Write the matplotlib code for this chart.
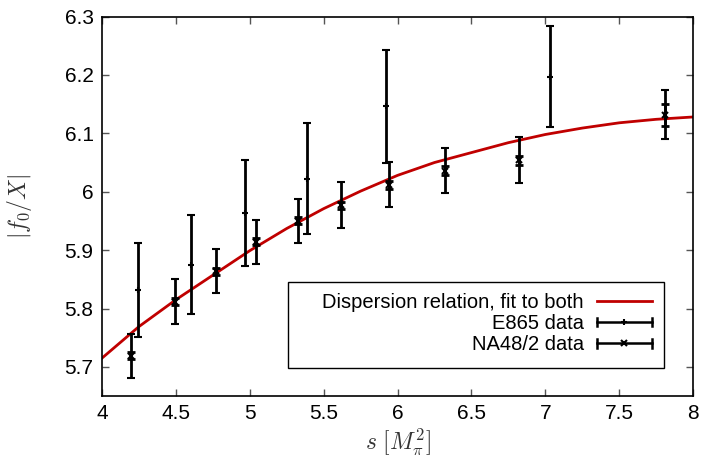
import matplotlib as mpl
import matplotlib.pyplot as plt
from matplotlib.lines import Line2D
from matplotlib.patches import Rectangle
from matplotlib.legend_handler import HandlerBase
import numpy as np

mpl.rcParams['font.family'] = 'Liberation Sans'
mpl.rcParams['mathtext.fontset'] = 'cm'

# E865 data (s, value, error)
e865_s = [4.246, 4.600, 4.970, 5.389, 5.922, 7.031]
e865_f = [5.832, 5.875, 5.964, 6.022, 6.146, 6.197]
e865_err = [0.081, 0.085, 0.091, 0.095, 0.097, 0.086]

# NA48/2 data (s, value, total error, stat error)
na48_s = [4.198, 4.496, 4.769, 5.040, 5.324, 5.617, 5.940, 6.323, 6.824, 7.811]
na48_f = [5.719, 5.812, 5.864, 5.914, 5.950, 5.977, 6.012, 6.036, 6.054, 6.132]
na48_err = [0.038, 0.038, 0.038, 0.038, 0.038, 0.039, 0.039, 0.039, 0.039, 0.042]
na48_stat = [0.006, 0.006, 0.006, 0.006, 0.006, 0.006, 0.007, 0.008, 0.008, 0.019]

# dispersion relation fit curve
fit_s = [4.0, 4.25, 4.5, 4.75, 5.0, 5.25, 5.5, 5.75, 6.0, 6.25, 6.5, 6.75,
         7.0, 7.25, 7.5, 7.75, 8.0]
fit_f = [5.715, 5.769, 5.815, 5.857, 5.899, 5.937, 5.971, 6.001, 6.028,
         6.050, 6.067, 6.084, 6.098, 6.109, 6.118, 6.124, 6.128]

xticks = [4, 4.5, 5, 5.5, 6, 6.5, 7, 7.5, 8]
yticks = [5.7, 5.8, 5.9, 6.0, 6.1, 6.2, 6.3]


class HandlerHBar(HandlerBase):
    """gnuplot-like legend sample: horizontal bar with end caps and a marker."""

    def __init__(self, marker):
        super().__init__()
        self.marker = marker

    def create_artists(self, legend, orig_handle, xdescent, ydescent,
                       width, height, fontsize, trans):
        y = height / 2 - ydescent
        x0, x1 = -xdescent, width - xdescent
        bar = Line2D([x0, x1], [y, y], color='black', lw=1.8, transform=trans)
        cap0 = Line2D([x0, x0], [y - 3, y + 3], color='black', lw=1.8, transform=trans)
        cap1 = Line2D([x1, x1], [y - 3, y + 3], color='black', lw=1.8, transform=trans)
        mk = Line2D([(x0 + x1) / 2], [y], marker=self.marker, ms=4, mew=1.5,
                    color='black', transform=trans)
        return [bar, cap0, cap1, mk]


fig = plt.figure(figsize=(7.03, 4.59), dpi=100)
ax = fig.add_axes([0.145, 0.137, 0.841, 0.827])

fit_line, = ax.plot(fit_s, fit_f, color='#c00000', lw=2, zorder=1,
                    label='Dispersion relation, fit to both')

ax.errorbar(e865_s, e865_f, yerr=e865_err, fmt='+', ms=4, mew=1.5, color='black',
            ecolor='black', elinewidth=2, capsize=3, capthick=2, zorder=3)
ax.errorbar(na48_s, na48_f, yerr=na48_err, fmt='x', ms=4, mew=1.5, color='black',
            ecolor='black', elinewidth=2, capsize=3, capthick=2, zorder=3)
ax.errorbar(na48_s, na48_f, yerr=na48_stat, fmt='none', ecolor='black',
            elinewidth=2, capsize=3, capthick=2, zorder=3)

e865_h = Line2D([], [], color='black')
na48_h = Line2D([], [], color='black')

# gnuplot-style key box, wider than its contents
ax.add_patch(Rectangle((0.3146, 0.0738), 0.6354, 0.2268, transform=ax.transAxes,
                       facecolor='white', edgecolor='black', lw=1.0, zorder=4))

leg = ax.legend([fit_line, e865_h, na48_h],
                ['Dispersion relation, fit to both', 'E865 data', 'NA48/2 data'],
                handler_map={e865_h: HandlerHBar('+'), na48_h: HandlerHBar('x')},
                loc='lower right', bbox_to_anchor=(0.951, 0.078), markerfirst=False,
                fontsize=14.5, frameon=False, handlelength=2.75, labelspacing=0.12,
                borderpad=0.6, handletextpad=0.65, borderaxespad=0)
leg.set_zorder(5)

ax.set_xlim(4, 8)
ax.set_ylim(5.65, 6.3)
ax.set_xticks(xticks)
ax.set_yticks(yticks)
ax.set_xticklabels(['%g' % v for v in xticks])
ax.set_yticklabels(['%g' % v for v in yticks])
ax.tick_params(direction='in', top=True, right=True, length=5, width=1,
               color='#555555', labelsize=15, pad=6)
for sp in ax.spines.values():
    sp.set_linewidth(1.2)

ax.set_xlabel(r'$s\ [M_\pi^2]$', fontsize=17, color='#333333', labelpad=2)
ax.set_ylabel(r'$|f_0/X|$', fontsize=17, color='#333333', labelpad=22)

fig.savefig('out.png', dpi=100)
